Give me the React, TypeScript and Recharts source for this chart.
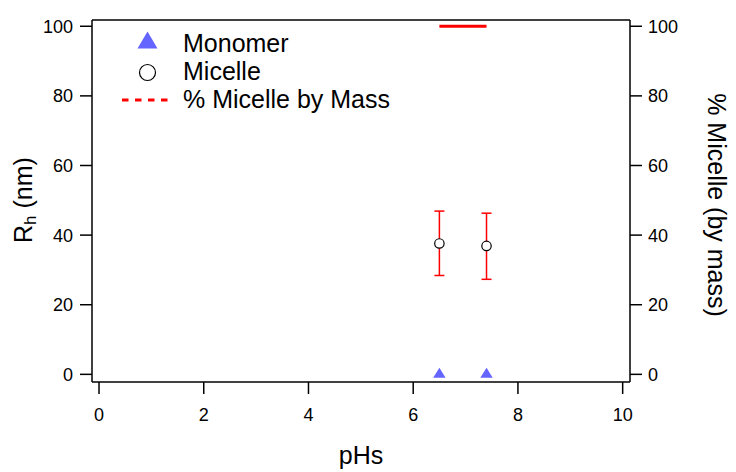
import React from 'react';
import { ComposedChart, Scatter, XAxis, YAxis, ErrorBar, Legend } from 'recharts';

const phValues = [6.5, 7.4];
const monomerRh = [0, 0];
const micelleRh = [37.6, 36.9];
const micelleErrLow = [9.2, 9.6];
const micelleErrHigh = [9.3, 9.4];
const micelleMassPct = [100, 100];
const xTicks = [0, 2, 4, 6, 8, 10];
const yTicks = [0, 20, 40, 60, 80, 100];
const legendLabels = ['Monomer', 'Micelle', '% Micelle by Mass'];
const xTitle = 'pHs';
const rightTitle = '% Micelle (by mass)';

const monomerData = phValues.map((x, i) => ({ x, y: monomerRh[i] }));
const micelleData = phValues.map((x, i) => ({
  x,
  y: micelleRh[i],
  err: [micelleErrLow[i], micelleErrHigh[i]],
}));
const massData = phValues.map((x, i) => ({ x, y: micelleMassPct[i] }));

const FONT = '"Liberation Sans", Arial, Helvetica, sans-serif';
const BLUE = '#6464ff';
const RED = '#ff0000';
const X_DOMAIN: [number, number] = [-0.134, 10.14];
const Y_DOMAIN: [number, number] = [-2.2, 101.8];

const axisLine = { stroke: '#000', strokeWidth: 1.5 };
const tickLine = { stroke: '#000', strokeWidth: 1.5 };
const tickStyle = { fill: '#000', fontSize: 18, fontFamily: FONT };

const Triangle = (props: any) => {
  const { cx, cy } = props;
  if (cx == null || cy == null) return <g />;
  return (
    <polygon
      points={`${cx},${cy - 6.7} ${cx + 6.2},${cy + 3.4} ${cx - 6.2},${cy + 3.4}`}
      fill={BLUE}
    />
  );
};

const Circle = (props: any) => {
  const { cx, cy } = props;
  if (cx == null || cy == null) return <g />;
  return <circle cx={cx} cy={cy} r={4.7} fill="#fff" stroke="#000" strokeWidth={1.2} />;
};

const Empty = () => <g />;

const renderLegend = () => (
  <svg width={420} height={120} style={{ display: 'block', overflow: 'visible' }}>
    <polygon points="147.5,31.5 157.5,48.5 137.5,48.5" fill={BLUE} />
    <circle cx={147.5} cy={72.5} r={8} fill="#fff" stroke="#000" strokeWidth={1.2} />
    <line x1={122} y1={100} x2={167.5} y2={100} stroke={RED} strokeWidth={3} strokeDasharray="6.5 6.5" />
    {legendLabels.map((t, i) => (
      <text key={t} x={183} y={51.5 + i * 28.3} fontSize={25} fontFamily={FONT} fill="#000">
        {t}
      </text>
    ))}
  </svg>
);

export default function App() {
  return (
    <div style={{ position: 'absolute', left: 0, top: 0, background: '#fff' }}>
      <ComposedChart width={736} height={472} margin={{ top: 0, right: 0, bottom: 0, left: 0 }}>
        <XAxis
          xAxisId="bottom"
          type="number"
          dataKey="x"
          domain={X_DOMAIN}
          allowDataOverflow
          ticks={xTicks}
          interval={0}
          orientation="bottom"
          height={90}
          tickSize={12}
          tickMargin={14}
          axisLine={axisLine}
          tickLine={tickLine}
          tick={tickStyle}
          label={() => (
            <text x={361} y={463.5} textAnchor="middle" fontSize={25} fontFamily={FONT} fill="#000">
              {xTitle}
            </text>
          )}
        />
        <XAxis
          xAxisId="top"
          type="number"
          dataKey="x"
          domain={X_DOMAIN}
          allowDataOverflow
          ticks={xTicks}
          interval={0}
          orientation="top"
          height={20}
          tickSize={12}
          axisLine={axisLine}
          tickLine={tickLine}
          tick={false}
        />
        <YAxis
          yAxisId="left"
          type="number"
          dataKey="y"
          domain={Y_DOMAIN}
          allowDataOverflow
          ticks={yTicks}
          interval={0}
          orientation="left"
          width={92}
          tickSize={12}
          tickMargin={7}
          axisLine={axisLine}
          tickLine={tickLine}
          tick={tickStyle}
          label={() => (
            <text
              x={32}
              y={200}
              transform="rotate(-90, 32, 200)"
              textAnchor="middle"
              fontSize={25}
              fontFamily={FONT}
              fill="#000"
            >
              <tspan>R</tspan>
              <tspan fontSize={17} dy={4}>h</tspan>
              <tspan dy={-4}> (nm)</tspan>
            </text>
          )}
        />
        <YAxis
          yAxisId="right"
          type="number"
          dataKey="y"
          domain={Y_DOMAIN}
          allowDataOverflow
          ticks={yTicks}
          interval={0}
          orientation="right"
          width={106}
          tickSize={12}
          tickMargin={6}
          axisLine={axisLine}
          tickLine={tickLine}
          tick={tickStyle}
          label={() => (
            <text
              x={708}
              y={205}
              transform="rotate(90, 708, 205)"
              textAnchor="middle"
              fontSize={25}
              fontFamily={FONT}
              fill="#000"
            >
              {rightTitle}
            </text>
          )}
        />
        <Scatter
          name={legendLabels[2]}
          xAxisId="bottom"
          yAxisId="right"
          data={massData}
          fill={RED}
          line={{ stroke: RED, strokeWidth: 3 }}
          shape={Empty}
          isAnimationActive={false}
        />
        <Scatter
          name={legendLabels[1]}
          xAxisId="bottom"
          yAxisId="left"
          data={micelleData}
          fill="#fff"
          shape={Circle}
          isAnimationActive={false}
        >
          <ErrorBar dataKey="err" direction="y" width={5} stroke={RED} strokeWidth={1.5} isAnimationActive={false} />
        </Scatter>
        <Scatter
          name={legendLabels[0]}
          xAxisId="bottom"
          yAxisId="left"
          data={monomerData}
          fill={BLUE}
          shape={Triangle}
          isAnimationActive={false}
        />
        <Legend
          layout="vertical"
          align="center"
          verticalAlign="middle"
          wrapperStyle={{ left: 0, top: 0, width: 420, height: 120 }}
          content={renderLegend}
        />
      </ComposedChart>
    </div>
  );
}
